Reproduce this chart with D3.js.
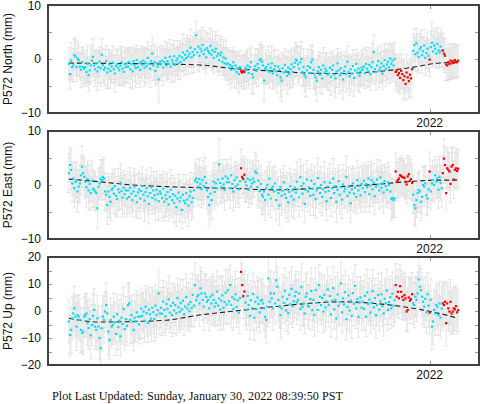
<!DOCTYPE html>
<html><head><meta charset="utf-8">
<script src="https://cdn.jsdelivr.net/npm/d3@7"></script>
<style>body{margin:0;background:#fff}svg{display:block}</style>
</head><body>
<svg id="c" width="481" height="404"></svg>
<script>
// ---- data (mm), daily from startDate ----
const startDate = "2021-02-06";
const xDomain = ["2021-01-18", "2022-02-15"];
const xTickLabels = ["2022"];
const xTickDates = ["2022-01-01"];
const rapidRanges = [["2021-07-13","2021-07-16"],["2021-12-01","2021-12-16"],["2022-01-01","2022-01-01"],["2022-01-13","2022-01-27"]];

const northVals = [
-0.9,-2.8,-0.3,-1.5,-1.2,0.7,0.5,-1.5,0.1,-0.2,-1.4,-2.0,-0.6,-1.5,-1.8,-1.5,-2.4,-0.9,-3.0,-2.1,-1.2,-0.3,0.4,
-1.2,-1.9,-0.8,-2.3,-1.5,-0.5,-1.7,0.8,-1.1,-2.0,-1.6,-0.4,-2.5,-1.8,-1.0,-2.2,-1.4,-0.7,-1.9,-2.7,-1.3,-0.9,-1.6,-2.1,-1.2,-0.6,-1.8,-2.4,-1.0,-1.5,-0.8,
-1.4,-0.6,-1.9,-0.9,-2.3,-0.4,-1.2,-1.7,-0.2,-1.5,-0.8,-2.0,-0.5,-1.1,-0.3,-1.6,-0.7,-1.3,0.2,-0.9,-1.8,-0.4,1.0,-1.2,-0.6,-2.2,-0.8,-1.4,-3.8,-0.5,
-1.0,-0.3,-1.6,-0.6,0.2,-1.2,-0.4,-0.9,0.4,-1.4,-0.2,-0.7,0.5,-1.1,-0.3,0.1,-0.8,0.6,-0.5,0.3,1.2,-0.2,0.8,0.2,1.5,0.5,1.0,2.1,0.3,1.3,0.7,
1.8,4.4,1.2,2.3,0.6,1.9,1.4,2.6,0.9,1.7,0.3,2.0,1.5,1.1,2.4,0.8,1.6,0.2,1.3,1.9,0.5,1.0,-0.2,0.7,1.2,-0.5,0.3,-0.8,0.1,-1.0,
-0.8,-1.6,-1.1,-2.0,-1.4,-0.6,-1.9,-1.2,-2.4,-1.7,-2.8,-1.5,-2.3,-2.5,-2.2,-2.4,-1.6,-2.0,-1.2,-2.6,-1.5,-0.6,-2.8,-3.4,-1.9,-1.3,-2.2,-0.9,-1.7,-0.2,0.0,
-0.5,-1.2,-4.0,-1.8,-1.5,-2.1,-1.0,-2.4,-1.6,-0.8,-2.7,-1.9,-1.3,-2.3,-3.0,-1.4,-2.0,-3.4,-4.0,-1.7,-2.5,-1.1,-2.2,-3.1,-1.6,-2.8,-1.9,-1.0,-2.4,-1.5,-0.7,
-0.1,-0.3,-1.0,-1.8,-0.6,0.0,-2.4,-1.5,-3.0,-3.4,-2.1,-1.3,-2.6,-1.6,-0.6,-0.1,-2.0,-2.8,-3.4,-4.0,-2.3,-1.5,-2.9,-2.0,-3.6,-1.2,-2.5,-1.8,-2.2,-2.9,
-2.7,-1.6,-3.3,-2.0,-1.2,-2.9,-3.6,-2.3,-0.8,-2.1,-3.0,-1.7,-2.6,-3.8,-2.2,-1.4,-2.8,-0.5,-2.4,-3.2,-1.9,-2.7,-1.3,-3.5,-2.1,-0.9,-2.5,-1.8,-3.1,-2.3,-1.6,
-2.0,-1.4,-2.6,-0.9,-1.8,-2.3,-1.1,-2.8,-1.5,-0.6,1.3,-1.9,-2.4,-1.2,-0.4,-2.1,-1.6,-0.8,-2.7,-1.3,-0.2,-1.8,-1.0,-0.5,-1.5,0.1,-0.9,-0.3,-1.2,0.0,
-2.4,-2.1,-3.0,-2.6,-3.5,-2.2,-2.8,-3.9,-3.2,-4.6,-2.5,-3.4,-4.1,-2.9,-3.6,-1.9,1.5,2.6,0.9,2.9,1.2,0.4,1.8,2.2,0.7,1.4,2.5,0.2,1.1,1.9,0.6,
-0.1,2.2,3.0,1.4,2.5,1.9,1.0,2.8,1.6,1.2,2.3,1.5,1.6,1.0,0.6,-1.0,-1.2,-0.6,-0.9,-0.3,-0.8,-0.4,-0.7,-0.2,-0.5,-0.6,-0.3];
const northSig = [
3.0,2.8,3.4,2.6,3.1,2.9,3.5,2.7,3.2,3.0,2.5,3.3,2.9,3.6,2.8,3.1,2.7,3.4,3.0,2.6,3.2,2.9,3.3,
2.8,3.2,2.6,3.5,3.0,2.7,3.3,2.9,3.1,2.5,3.4,2.8,3.0,3.6,2.7,3.2,2.9,3.1,2.6,3.4,3.0,2.8,3.3,2.7,3.5,2.9,3.1,2.6,3.2,3.0,2.8,
3.1,2.7,3.4,2.9,3.2,2.6,3.0,3.5,2.8,3.1,2.7,3.3,2.9,3.0,2.6,3.4,2.8,3.2,3.0,2.7,3.5,2.9,3.1,2.8,3.3,2.6,3.0,3.2,4.3,2.9,
3.0,2.8,3.3,2.6,3.1,2.9,3.4,2.7,3.2,3.0,2.8,3.5,2.9,3.1,2.6,3.3,3.0,2.8,3.2,2.7,3.4,2.9,3.0,3.1,2.8,3.3,2.6,3.5,3.0,2.9,3.2,
3.1,2.6,3.3,2.9,3.0,3.4,2.7,3.2,2.8,3.5,3.0,2.9,3.1,2.7,3.3,2.8,3.6,2.9,3.0,3.2,2.7,3.4,2.8,3.1,3.0,2.6,3.3,2.9,3.2,3.0,
2.9,3.2,2.7,3.4,3.0,2.8,3.3,2.6,3.1,2.9,3.5,3.0,2.8,3.1,2.9,3.2,2.7,3.4,3.0,2.8,3.3,2.9,3.6,3.1,2.7,3.2,3.0,2.8,3.4,2.9,3.1,
3.0,3.3,3.8,2.9,3.1,2.7,3.4,3.0,2.8,3.2,2.9,3.5,3.1,2.7,3.3,3.0,2.8,3.6,3.9,2.9,3.2,3.0,2.7,3.4,3.1,2.8,3.3,3.0,2.9,3.2,2.8,
3.1,2.8,3.3,3.0,2.9,3.2,2.7,3.4,3.0,3.6,2.8,3.1,2.9,3.3,3.0,2.7,3.5,2.9,3.2,3.8,3.0,2.8,3.4,3.1,2.9,3.3,2.7,3.0,3.2,2.9,
3.2,2.9,3.4,3.0,2.8,3.3,3.6,3.0,2.7,3.1,3.4,2.9,3.2,3.7,3.0,2.8,3.3,2.9,3.1,3.5,2.8,3.2,3.0,3.4,2.9,2.7,3.3,3.0,3.1,2.9,3.2,
3.0,3.3,2.9,3.1,3.4,2.8,3.2,3.0,2.9,3.5,3.1,2.8,3.3,3.0,2.7,3.2,2.9,3.4,3.0,2.8,3.1,3.3,2.9,3.2,3.0,2.8,3.4,3.1,2.9,3.0,
3.3,2.9,3.1,3.4,3.0,3.2,2.8,3.5,3.1,3.0,3.3,2.9,3.2,3.0,3.4,2.8,3.1,3.0,3.2,2.8,3.3,3.0,2.9,3.1,3.4,2.7,3.0,3.2,2.9,3.1,3.0,
3.2,3.0,3.9,2.9,3.1,3.3,2.8,3.0,3.2,2.9,3.1,3.0,3.2,2.9,3.1,3.0,2.8,3.3,2.9,3.1,3.0,3.2,2.8,3.0,3.1,2.9,3.0];

const eastVals = [
2.2,3.7,2.8,0.3,1.2,-0.6,0.6,0.9,-1.2,-0.3,0.3,1.8,3.4,2.2,1.5,0.6,-0.4,1.1,-1.0,0.2,-1.5,0.8,-0.7,
-0.9,-1.2,-1.5,-4.3,-0.3,0.3,1.2,0.9,1.5,1.2,-1.2,-1.8,-3.7,-1.2,-2.2,-3.1,-0.9,-0.6,-1.6,-0.2,-2.0,-2.6,-0.8,-1.4,0.4,-1.1,-2.3,-0.5,-1.7,-1.0,-2.5,
-1.0,-2.2,-0.5,-1.6,-2.8,-1.2,-0.3,-2.0,-3.2,-1.4,-0.8,-2.5,-1.1,-0.2,-1.8,-2.9,-1.3,-0.6,-2.1,-3.5,-1.5,-0.4,-2.4,-1.0,-1.9,-2.7,-0.9,-1.7,-3.0,-1.2,
-1.6,-2.4,-0.7,-3.1,-1.9,-2.6,-1.3,-3.6,-2.2,-0.9,-2.8,-1.7,-3.3,-2.0,-4.1,-2.5,-1.4,-3.0,-2.3,-4.6,-1.8,-2.9,-3.4,-1.5,-2.7,-3.8,-2.1,-1.2,-3.2,-2.4,-1.0,
0.8,1.2,0.5,-0.3,1.1,0.2,-0.8,0.9,-0.2,1.5,0.4,-1.0,-2.2,-3.7,-1.6,-2.8,-0.5,0.6,-1.3,0.3,-0.6,1.0,3.8,0.4,-0.4,1.2,0.1,-0.9,1.6,0.5,
1.2,0.5,-0.6,1.8,0.2,-1.2,0.9,-0.3,1.4,0.1,-0.8,0.7,3.1,1.5,1.1,1.9,0.6,-0.1,1.2,-0.9,0.9,-0.3,0.3,1.2,0.6,2.5,2.2,-0.4,0.8,-1.1,0.2,
-1.8,-2.2,-1.2,-2.8,-0.6,0.0,-1.8,1.2,-2.5,-0.6,-0.3,-1.2,0.3,-2.8,-0.9,-1.5,-3.8,-0.4,-2.0,-1.1,0.5,-1.7,-2.4,-0.8,-3.2,-1.3,-0.2,-2.1,-1.0,-2.7,-0.5,
-1.4,0.6,-0.8,-2.3,1.5,-0.2,-1.6,0.3,-3.5,-0.9,1.0,-1.2,-0.4,-2.0,0.8,-0.7,-1.8,0.2,-2.6,-1.0,1.3,-0.5,-1.5,0.0,-2.2,-0.8,0.5,-1.3,-3.0,-0.3,
-1.1,0.4,-2.4,-0.6,1.2,-1.5,-0.2,-3.1,-0.9,0.7,-1.8,-0.4,-2.7,0.1,-1.2,-0.7,1.5,-2.0,-0.3,-1.4,-3.4,-0.8,0.3,-1.6,-0.5,-2.2,0.9,-1.0,-0.2,-1.9,0.2,
-0.6,0.8,-1.3,0.2,-0.4,1.2,-1.7,-0.1,0.9,-0.8,0.4,-2.1,-0.3,1.0,0.1,-1.0,1.4,-0.5,0.3,-1.4,0.7,-0.2,-0.9,0.5,0.0,-1.2,-2.6,-2.4,-2.8,-2.5,
2.5,0.6,0.9,1.2,1.8,1.7,1.5,1.4,1.3,0.6,0.1,1.6,2.0,0.8,1.1,0.4,-1.8,-3.7,-4.3,-2.8,-1.5,-0.9,-1.2,-3.1,-2.2,0.0,-0.3,0.3,-1.9,-2.5,-0.8,
2.5,-1.2,0.3,0.9,0.0,1.8,0.6,1.2,-0.9,1.5,0.4,-0.6,2.2,4.9,3.7,-1.5,3.1,2.8,2.5,0.2,3.4,3.7,1.0,2.8,3.1,2.6,3.0];
const eastSig = [
3.6,3.2,3.8,3.4,3.0,3.5,3.7,3.3,3.9,3.1,3.4,3.6,3.8,3.2,3.5,3.0,3.7,3.3,3.6,3.4,3.1,3.8,3.5,
3.3,3.6,3.1,3.8,3.4,3.0,3.5,3.7,3.2,3.9,3.4,3.1,3.6,3.3,3.8,3.5,3.0,3.4,3.7,3.2,3.6,3.3,3.9,3.1,3.5,3.4,3.7,3.2,3.6,3.0,3.4,
3.5,3.2,3.7,3.4,3.1,3.6,3.3,3.8,3.0,3.5,3.4,3.7,3.2,3.6,3.1,3.9,3.3,3.5,3.4,3.7,3.2,3.6,3.0,3.5,3.3,3.8,3.4,3.1,3.6,3.2,
3.4,3.7,3.2,3.5,3.9,3.3,3.6,3.1,3.4,3.8,3.2,3.5,3.7,3.3,3.6,3.0,3.4,3.8,3.2,3.5,3.7,3.1,3.6,3.4,3.3,3.9,3.2,3.5,3.4,3.6,3.1,
3.3,3.6,3.2,3.5,3.8,3.1,3.4,3.7,3.3,3.6,3.0,3.5,3.2,3.9,3.4,3.6,3.1,3.5,3.3,3.7,3.2,3.4,4.8,3.6,3.1,3.5,3.3,3.8,3.2,3.4,
3.5,3.2,3.7,3.4,3.1,3.6,3.3,3.8,3.0,3.5,3.4,3.2,3.6,3.3,3.5,3.4,3.7,3.1,3.6,3.3,3.5,3.2,3.8,3.4,3.0,3.6,3.3,3.5,3.7,3.2,3.4,
3.6,3.3,3.5,3.8,3.2,3.4,3.7,3.1,3.5,3.3,3.6,3.4,3.2,3.8,3.5,3.0,3.7,3.3,3.6,3.4,3.1,3.5,3.8,3.2,3.6,3.4,3.3,3.7,3.1,3.5,3.4,
3.4,3.7,3.2,3.5,3.3,3.8,3.1,3.6,3.4,3.2,3.5,3.7,3.3,3.6,3.0,3.4,3.8,3.2,3.5,3.3,3.7,3.1,3.6,3.4,3.5,3.2,3.8,3.3,3.6,3.4,
3.3,3.6,3.4,3.1,3.7,3.5,3.2,3.8,3.4,3.0,3.6,3.3,3.5,3.7,3.2,3.4,3.9,3.1,3.6,3.3,3.5,3.8,3.2,3.4,3.6,3.1,3.7,3.3,3.5,3.2,3.4,
3.5,3.2,3.7,3.4,3.6,3.1,3.3,3.8,3.5,3.2,3.6,3.4,3.0,3.7,3.3,3.5,3.2,3.6,3.4,3.8,3.1,3.5,3.3,3.7,3.4,3.2,3.9,3.6,3.3,3.5,
3.4,3.6,3.3,3.5,3.2,3.7,3.4,3.1,3.6,3.3,3.5,3.8,3.2,3.4,3.6,3.3,3.5,3.7,3.4,3.2,3.6,3.3,3.8,3.5,3.1,3.4,3.6,3.3,3.5,3.2,3.4,
3.6,3.4,3.2,3.7,3.3,3.5,3.1,3.6,3.4,3.8,3.3,3.5,3.2,3.6,3.4,3.1,3.7,3.3,3.5,3.4,3.6,3.2,3.5,3.3,3.7,3.4,3.5];

const upVals = [
-3.9,-8.9,-7.0,-2.7,-0.9,1.0,-2.1,-5.8,-1.5,-2.1,-3.3,-7.0,-8.2,-7.6,-2.1,-1.5,-0.9,-4.5,-6.3,-3.0,-9.0,-5.2,-1.8,
0.4,-5.8,-7.0,-2.7,-5.8,-10.0,-13.8,-6.4,-2.1,-3.3,-0.2,2.2,-0.9,-7.6,-10.7,-3.3,-5.8,-5.2,-2.1,-4.2,-8.5,-1.2,-6.0,-3.6,-9.4,-2.5,-4.8,0.8,-6.7,-3.0,-5.5,
2.2,2.8,-3.3,-1.5,-4.0,-7.0,-2.5,-3.9,-0.5,-2.1,-5.0,-2.1,0.9,-1.8,-0.2,-3.6,1.6,-0.8,-4.4,0.5,-1.2,-2.8,1.2,-0.4,-3.0,2.0,-1.5,0.3,6.5,-0.9,
1.2,-1.0,3.5,0.4,-2.0,2.6,0.8,4.3,-0.6,1.9,-1.5,3.0,0.2,2.2,-0.8,4.8,1.4,-0.3,2.9,0.6,3.8,-1.2,1.7,5.2,0.9,2.4,-0.1,3.3,1.1,6.0,2.0,
9.6,4.0,5.3,5.9,2.8,8.4,6.5,4.1,1.6,6.5,5.3,3.4,4.1,1.0,5.3,2.8,6.0,4.1,1.6,3.0,7.2,2.0,4.6,0.5,3.8,5.8,1.2,3.3,6.8,2.4,
7.7,3.6,9.6,2.3,5.1,0.8,4.4,6.2,1.5,3.9,-0.6,4.8,14.5,9.6,5.5,7.2,3.1,0.4,5.6,2.2,-1.8,4.0,1.0,6.3,-2.5,3.4,0.7,5.0,2.6,-0.5,3.8,
4.1,2.8,1.0,-2.1,-3.3,1.6,12.1,3.4,6.5,4.7,1.0,6.5,2.8,11.4,9.0,4.1,1.6,-1.5,1.0,5.3,3.0,7.5,0.2,4.4,-0.8,6.0,2.5,8.2,1.8,3.6,5.5,
7.1,3.2,4.1,6.5,0.8,9.0,1.6,2.8,-0.9,5.3,6.5,2.0,1.6,4.4,7.4,0.3,4.1,-1.5,7.7,3.0,0.4,9.6,5.3,2.2,4.8,-0.2,6.0,1.3,3.5,8.0,
2.2,5.5,-1.2,3.8,8.5,0.6,4.2,-2.8,6.1,1.9,3.3,10.2,-0.5,4.7,2.4,7.0,-3.0,1.5,5.8,0.2,3.9,-1.8,6.6,2.7,9.3,0.9,4.4,-2.2,3.1,5.0,1.2,
3.5,0.8,5.6,-2.1,6.9,2.5,4.2,-0.6,3.0,7.4,1.4,4.8,-1.5,2.2,5.9,0.5,3.6,6.2,1.8,-0.9,4.5,2.9,7.6,0.4,3.3,5.1,1.0,6.4,2.0,4.0,
9.6,5.3,7.1,4.7,9.2,7.1,5.3,4.1,5.9,4.7,-0.2,0.4,5.0,3.8,4.4,6.2,2.8,2.2,5.3,4.1,6.5,11.7,9.0,7.7,5.3,3.4,1.6,4.5,-0.5,6.2,2.0,
-0.6,4.1,-5.8,-3.9,0.4,-0.9,2.2,1.6,-1.5,2.8,-2.4,0.9,2.8,2.2,3.4,-4.5,2.8,1.0,-0.2,3.4,-0.9,-0.2,1.0,0.6,1.8,-0.5,0.3];
const upSig = [
8.0,7.4,8.5,7.8,7.1,8.2,7.6,8.8,7.3,8.1,7.7,8.4,7.0,8.6,7.5,8.0,7.2,8.3,7.9,7.4,8.7,7.6,8.1,
7.8,8.3,7.2,8.6,7.5,8.0,7.3,8.4,7.7,8.9,7.4,8.1,7.6,8.5,7.1,8.2,7.9,7.3,8.7,7.6,8.0,7.4,8.3,7.8,7.2,8.6,7.5,8.1,7.7,8.4,7.3,
8.2,7.6,8.5,7.3,8.0,7.7,8.8,7.4,8.1,7.9,7.2,8.4,7.6,8.3,7.5,8.0,7.8,8.6,7.3,8.2,7.7,8.5,7.4,7.9,8.1,7.6,8.3,7.2,8.7,7.8,
7.5,8.1,7.8,8.4,7.2,8.0,7.6,8.6,7.4,8.2,7.9,7.3,8.5,7.7,8.1,7.5,8.3,7.6,8.8,7.4,8.0,7.8,7.2,8.4,7.7,8.2,7.5,8.6,7.3,8.0,7.9,
8.3,7.6,8.0,7.4,8.5,7.8,8.2,7.5,8.7,7.3,8.1,7.9,7.6,8.4,7.2,8.0,7.7,8.6,7.4,8.2,7.8,7.5,8.3,7.6,8.9,7.3,8.1,7.7,8.4,7.5,
7.9,8.2,7.4,8.6,7.7,8.0,7.3,8.4,7.6,8.1,7.8,7.5,8.5,7.9,8.2,7.6,8.3,7.4,8.0,7.7,8.6,7.3,8.1,7.8,8.4,7.5,8.0,7.6,8.7,7.4,8.2,
8.0,7.5,8.3,7.8,8.6,7.4,8.1,7.7,8.4,7.2,8.2,7.9,7.6,8.5,7.3,8.0,7.8,8.7,7.5,8.1,7.4,8.3,7.7,8.0,7.6,8.4,7.3,8.2,7.9,7.5,8.1,
7.7,8.3,7.4,8.0,7.8,8.5,7.3,8.1,7.6,8.4,7.9,7.5,8.2,7.7,8.6,7.4,8.0,7.8,8.3,7.5,8.1,7.6,8.7,7.3,8.2,7.9,7.4,8.4,7.7,8.0,
8.1,7.6,8.4,7.8,8.0,7.3,8.5,7.7,8.2,7.5,8.3,7.9,7.4,8.6,7.6,8.1,7.8,8.4,7.2,8.0,7.7,8.5,7.5,8.2,7.9,7.4,8.3,7.6,8.0,7.8,8.2,
7.6,8.2,7.9,7.4,8.5,7.7,8.0,7.5,8.3,7.8,8.1,7.3,8.6,7.6,8.0,7.9,7.4,8.2,7.7,8.4,7.5,8.1,7.8,7.6,8.3,7.9,7.4,8.0,7.7,8.2,
8.0,7.7,8.3,7.5,8.1,7.8,8.4,7.6,8.2,7.9,7.4,8.0,7.7,8.3,7.6,8.1,7.8,8.4,7.5,8.2,7.9,8.6,7.7,8.0,7.4,8.3,7.8,8.1,7.6,8.0,7.9,
8.2,7.9,8.5,8.8,7.6,8.1,7.8,8.3,7.5,8.0,7.7,8.2,7.9,8.1,7.6,8.4,7.8,8.0,7.5,8.2,7.7,8.3,7.9,8.0,7.6,8.1,7.8];

// model (dashed) curves
const modelDates = ["2021-02-06","2021-03-06","2021-04-05","2021-05-06","2021-06-05","2021-07-03","2021-08-12","2021-09-12","2021-10-12","2021-11-12","2021-12-11","2022-01-10","2022-01-27"];
const northModel = [-0.75,-0.8,-0.85,-0.95,-1.1,-1.7,-2.25,-2.6,-2.7,-2.35,-1.7,-0.75,-0.6];
const eastModel  = [1.1,0.6,0.0,-0.3,-0.5,-0.6,-0.9,-0.7,-0.3,0.1,0.6,0.9,0.9];
const upModel    = [-2.7,-4.1,-3.9,-3.4,-1.5,-0.2,1.6,2.8,3.4,2.8,1.4,-0.9,-2.7];

const yLabels = ["P572 North (mm)", "P572 East (mm)", "P572 Up (mm)"];
const yDomains = [[-10,10],[-10,10],[-20,20]];
const footerLabel = "Plot Last Updated:";
const footerDate = "Sunday, January 30, 2022 08:39:50 PST";

// ---- drawing ----
const svg = d3.select("#c");
const parse = d3.utcParse("%Y-%m-%d");
const start = parse(startDate);
const x = d3.scaleUtc().domain(xDomain.map(parse)).range([48, 479]);
const ranges = rapidRanges.map(r => [parse(r[0]), parse(r[1])]);
const isRapid = d => ranges.some(r => d >= r[0] && d <= r[1]);
const SANS = "'Liberation Sans', Arial, Helvetica, sans-serif";
const SERIF = "'Liberation Serif', 'Times New Roman', serif";

const panels = [
  {vals: northVals, sig: northSig, model: northModel, top: 5, bottom: 113},
  {vals: eastVals, sig: eastSig, model: eastModel, top: 131, bottom: 239},
  {vals: upVals, sig: upSig, model: upModel, top: 257, bottom: 365}
];

panels.forEach((p, k) => {
  const y = d3.scaleLinear().domain(yDomains[k]).range([p.bottom, p.top]);
  const n = Math.min(p.vals.length, p.sig.length);
  const pts = d3.range(n).map(i => {
    const date = d3.utcDay.offset(start, i);
    return {date, v: p.vals[i], s: p.sig[i], rapid: isRapid(date)};
  });
  const clipId = "clip" + k;
  svg.append("clipPath").attr("id", clipId).append("rect")
    .attr("x", x.range()[0]).attr("y", p.top).attr("width", x.range()[1] - x.range()[0]).attr("height", p.bottom - p.top);
  const g = svg.append("g").attr("clip-path", `url(#${clipId})`);

  // error bars
  const path = d3.path();
  pts.forEach(d => {
    const px = x(d.date), y1 = y(d.v + d.s), y2 = y(d.v - d.s);
    path.moveTo(px, y1); path.lineTo(px, y2);
    path.moveTo(px - 2, y1); path.lineTo(px + 2, y1);
    path.moveTo(px - 2, y2); path.lineTo(px + 2, y2);
  });
  g.append("path").attr("d", path.toString()).attr("fill", "none")
    .attr("stroke", "#dadada").attr("stroke-width", 0.7);

  // model line
  const md = modelDates.map((s, i) => ({date: parse(s), v: p.model[i]}));
  g.append("path").datum(md)
    .attr("d", d3.line().x(d => x(d.date)).y(d => y(d.v)).curve(d3.curveMonotoneX))
    .attr("fill", "none").attr("stroke", "#222").attr("stroke-width", 1.1)
    .attr("stroke-dasharray", "5,3");

  // points
  g.selectAll("rect.pt").data(pts).join("rect").attr("class", "pt")
    .attr("x", d => x(d.date) - 1.1).attr("y", d => y(d.v) - 1.1)
    .attr("width", 2.2).attr("height", 2.2)
    .attr("fill", d => d.rapid ? "#ff0000" : "#00e0ff");

  // ticks
  const yt = d3.range(yDomains[k][0], yDomains[k][1] + 0.001, 5);
  const tk = svg.append("g").attr("stroke", "#999").attr("stroke-width", 1);
  yt.forEach(t => {
    const py = Math.round(y(t)) + 0.5;
    tk.append("line").attr("x1", 48).attr("x2", 52).attr("y1", py).attr("y2", py);
    tk.append("line").attr("x1", 479).attr("x2", 475).attr("y1", py).attr("y2", py);
  });
  xTickDates.forEach(s => {
    const px = Math.round(x(parse(s))) + 0.5;
    tk.append("line").attr("x1", px).attr("x2", px).attr("y1", p.top).attr("y2", p.top + 4);
    tk.append("line").attr("x1", px).attr("x2", px).attr("y1", p.bottom).attr("y2", p.bottom - 4);
  });

  // frame
  svg.append("rect").attr("x", 48).attr("y", p.top).attr("width", 479 - 48).attr("height", p.bottom - p.top)
    .attr("fill", "none").attr("stroke", "#404040").attr("stroke-width", 2);

  // y tick labels (major every 10)
  const ym = d3.range(yDomains[k][0], yDomains[k][1] + 0.001, 10);
  ym.forEach(t => {
    const ty = Math.max(y(t), 5.6);
    svg.append("text").attr("x", 41).attr("y", ty).attr("dy", "0.35em")
      .attr("text-anchor", "end").attr("font-family", SANS).attr("font-size", 12).attr("fill", "#111")
      .text(t < 0 ? "\u2212" + Math.abs(t) : String(t));
  });
  // x tick labels
  xTickDates.forEach((s, i) => {
    svg.append("text").attr("x", x(parse(s))).attr("y", p.bottom + 14)
      .attr("text-anchor", "middle").attr("font-family", SANS).attr("font-size", 12).attr("fill", "#111")
      .text(xTickLabels[i]);
  });
  // y title
  svg.append("text").attr("transform", `translate(11.5,${(p.top + p.bottom) / 2}) rotate(-90)`)
    .attr("text-anchor", "middle").attr("font-family", SANS).attr("font-size", 12).attr("fill", "#111")
    .text(yLabels[k]);
});

svg.append("text").attr("x", 52).attr("y", 399.5).attr("font-family", SERIF).attr("font-size", 12.2)
  .attr("fill", "#111").text(footerLabel);
svg.append("text").attr("x", 147).attr("y", 399.5).attr("font-family", SERIF).attr("font-size", 12.2)
  .attr("fill", "#111").text(footerDate);
</script>
</body></html>
